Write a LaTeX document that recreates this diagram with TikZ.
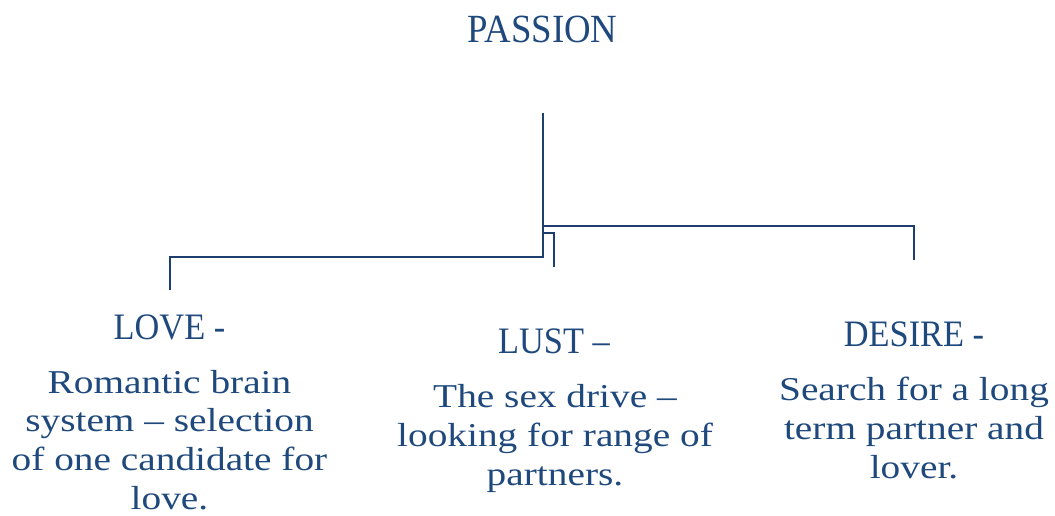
\documentclass[tikz,border=0pt]{standalone}
\usepackage{fontspec}
\setmainfont{Liberation Serif}
\newfontfamily\headfont[FakeStretch=0.92]{Liberation Serif}
\newfontfamily\bodyfont[FakeStretch=1.18]{Liberation Serif}
\definecolor{navy}{HTML}{1F497D}
\definecolor{linec}{HTML}{1C3F6E}
\tikzset{
  head/.style={text=navy, anchor=base, inner sep=0pt, font=\headfont\fontsize{28pt}{30pt}\selectfont},
  body/.style={text=navy, anchor=base, inner sep=0pt, align=center, font=\bodyfont\fontsize{25pt}{29pt}\selectfont},
  title/.style={text=navy, anchor=base, inner sep=0pt, font=\headfont\fontsize{30pt}{32pt}\selectfont},
  conn/.style={draw=linec, line width=1.5pt}
}
\begin{document}
\begin{tikzpicture}[x=0.75pt, y=-0.75pt]
\useasboundingbox (0,0) rectangle (1055,516);
\node[title] (passion) at (542.5,43) {PASSION};
\node[head] (love) at (169.5,339) {LOVE -};
\node[body] (lovetxt) at (169.5,509) {Romantic brain\\system – selection\\of one candidate for\\love.};
\node[head] (lust) at (554,353) {LUST –};
\node[body] (lusttxt) at (555,485) {The sex drive –\\looking for range of\\partners.};
\node[head] (desire) at (914,346) {DESIRE -};
\node[body] (desiretxt) at (914,478) {Search for a long\\term partner and\\lover.};
\coordinate (top) at (542.5,113);
\coordinate (jl) at (542.5,257);
\coordinate (jr) at (542.5,226);
\coordinate (jm) at (542.5,233);
\coordinate (el) at (170,290);
\coordinate (er) at (914,260);
\coordinate (em) at (553.5,267);
\draw[conn] (top) -- (jl) -| (el);
\draw[conn] (jr) -| (er);
\draw[conn] (jm) -| (em);
\end{tikzpicture}
\end{document}
